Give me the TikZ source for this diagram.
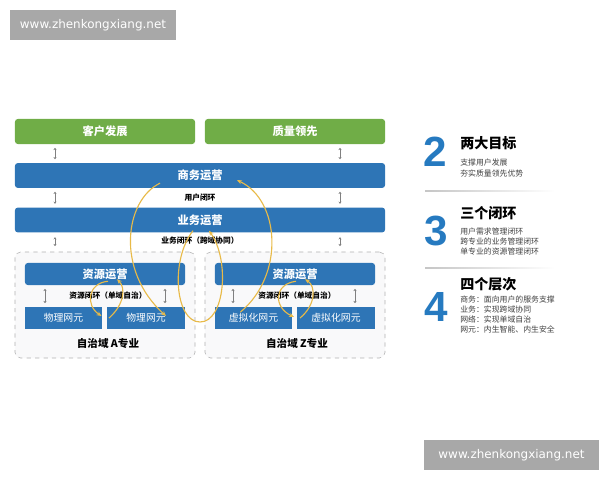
\documentclass[tikz,border=0pt]{standalone}
\usepackage{fontspec}
\setmainfont{Noto Sans CJK SC}
\newfontfamily\numfont{Liberation Sans}
\newfontfamily\wmfont{DejaVu Sans}
\usetikzlibrary{arrows.meta,calc}

\definecolor{gbar}{RGB}{112,173,71}
\definecolor{bbar}{RGB}{46,117,182}
\definecolor{loopc}{RGB}{232,186,72}
\definecolor{numc}{RGB}{38,122,192}
\definecolor{wmgray}{RGB}{168,168,168}
\definecolor{domfill}{RGB}{249,249,250}

\newcommand{\fs}[1]{\fontsize{#1}{#1}\selectfont}

\begin{document}
\begin{tikzpicture}[x=0.025cm, y=-0.025cm,
  greenbar/.style={fill=gbar, rounded corners=2pt, minimum width=4.5cm, minimum height=0.625cm, inner sep=0, text=white, font=\fs{8}\bfseries},
  bluebar/.style={fill=bbar, rounded corners=2pt, minimum width=9.25cm, minimum height=0.62cm, inner sep=0, text=white, font=\fs{8}\bfseries},
  resbar/.style={fill=bbar, rounded corners=2pt, minimum width=4cm, minimum height=0.55cm, inner sep=0, text=white, font=\fs{8}\bfseries},
  nebox/.style={fill=bbar, minimum width=1.93cm, minimum height=0.55cm, inner sep=0, text=white, font=\fs{7}},
  domainbox/.style={draw=gray!60, dashed, fill=domfill, rounded corners=4pt, minimum width=4.5cm, minimum height=2.65cm, inner sep=0},
  looplabel/.style={font=\fs{5.5}\bfseries, inner sep=0},
  updown/.style={{Stealth[length=1.6pt,width=2.2pt]}-{Stealth[length=1.6pt,width=2.2pt]}, gray, line width=0.4pt, shorten >=2.5pt, shorten <=2.5pt},
  goldloop/.style={-{Stealth[length=3.5pt,width=3pt]}, loopc, line width=0.8pt},
  bignum/.style={font=\numfont\fs{30}\bfseries, text=numc, inner sep=0},
  titletext/.style={anchor=west, font=\fs{10}\bfseries, inner sep=0},
  itemtext/.style={anchor=west, font=\fs{5.6}, text=black!75, inner sep=0, text height=4.6pt, text depth=0.6pt},
  watermark/.style={fill=wmgray, text=white, font=\wmfont\fs{8.5}, inner sep=0}]

\useasboundingbox (0,0) rectangle (600,480);

% watermarks
\node[watermark, minimum width=4.15cm, minimum height=0.75cm] (wm1) at (93,25) {www.zhenkongxiang.net};
\node[watermark, minimum width=4.38cm, minimum height=0.75cm] (wm2) at (511.5,455) {www.zhenkongxiang.net};

% goals
\node[greenbar] (cust) at (105,131.5) {客户发展};
\node[greenbar] (qual) at (295,131.5) {质量领先};

% operation layers
\node[bluebar] (biz) at (200,175.5) {商务运营};
\node[bluebar] (serv) at (200,220) {业务运营};
\node[looplabel] (userloop) at (200,198) {用户闭环};
\node[looplabel] (servloop) at (200,241) {业务闭环（跨域协同）};

% domains
\node[domainbox] (domA) at (105,305) {};
\node[domainbox] (domZ) at (295,305) {};
\node[resbar] (resA) at (105,274) {资源运营};
\node[resbar] (resZ) at (295,274) {资源运营};
\node[looplabel] (resloopA) at (108,296) {资源闭环（单域自治）};
\node[looplabel] (resloopZ) at (297,296) {资源闭环（单域自治）};
\node[nebox] (neA1) at (63.5,318) {物理网元};
\node[nebox] (neA2) at (146,318) {物理网元};
\node[nebox] (neZ1) at (253.5,318) {虚拟化网元};
\node[nebox] (neZ2) at (336,318) {虚拟化网元};
\node[font=\fs{7.5}\bfseries, inner sep=0] (nameA) at (108,343) {自治域 A专业};
\node[font=\fs{7.5}\bfseries, inner sep=0] (nameZ) at (297,343) {自治域 Z专业};

% small double arrows
\coordinate (cl) at (55,0);
\coordinate (cr) at (340,0);
\draw[updown] (cust.south -| cl) -- (biz.north -| cl);
\draw[updown] (qual.south -| cr) -- (biz.north -| cr);
\draw[updown] (biz.south -| cl) -- (serv.north -| cl);
\draw[updown] (biz.south -| cr) -- (serv.north -| cr);
\draw[updown] ($(serv.south -| cl)+(0,1)$) -- ($(domA.north -| cl)+(0,-2)$);
\draw[updown] ($(serv.south -| cr)+(0,1)$) -- ($(domZ.north -| cr)+(0,-2)$);
\draw[updown] (resA.south -| 45,0) -- (neA1.north -| 45,0);
\draw[updown] (resA.south -| 165,0) -- (neA2.north -| 165,0);
\draw[updown] (resZ.south -| 233,0) -- (neZ1.north -| 233,0);
\draw[updown] (resZ.south -| 355,0) -- (neZ2.north -| 355,0);

% loops
\draw[goldloop] ($(biz.south)+(-40,-5)$) .. controls (125,200) and (115,270) .. ($(neA2.center)+(20,-2)$);
\draw[goldloop] ($(neZ1.center)+(-13,-6)$) .. controls (285,275) and (280,200) .. ($(biz.south)+(37,-8)$);
\draw[goldloop] ($(serv.south)+(-7,-2)$) .. controls (170,260) and (175,322) .. (200,322) .. controls (225,322) and (230,260) .. ($(serv.south)+(9,-2)$);
\draw[goldloop] ($(neA2.center)+(-37,0)$) .. controls (124,305) and (126,288) .. ($(resA.south)+(12,-6)$);
\draw[goldloop] ($(resA.south)+(3,-4)$) .. controls (88,283) and (85,305) .. ($(neA1.center)+(38,-2)$);
\draw[goldloop] ($(neZ2.center)+(-36,0)$) .. controls (316,305) and (316,286) .. ($(resZ.south)+(10,-6)$);
\draw[goldloop] ($(resZ.south)+(1,-4)$) .. controls (274,284) and (273,307) .. ($(neZ2.center)+(-42,-1)$);

% right panel
\node[bignum] (n2) at (435,152) {2};
\node[titletext] (t2) at (460,143) {两大目标};
\node[itemtext] (i21) at (460,163) {支撑用户发展};
\node[itemtext] (i22) at (460,174) {夯实质量领先优势};
\shade[left color=gray!45, right color=white] (425,190.5) rectangle (555,191.5);

\node[bignum] (n3) at (436,231) {3};
\node[titletext] (t3) at (460,213) {三个闭环};
\node[itemtext] (i31) at (460,232) {用户需求管理闭环};
\node[itemtext] (i32) at (460,242) {跨专业的业务管理闭环};
\node[itemtext] (i33) at (460,252) {单专业的资源管理闭环};
\shade[left color=gray!45, right color=white] (425,267.5) rectangle (555,268.5);

\node[bignum] (n4) at (436,307) {4};
\node[titletext] (t4) at (460,284) {四个层次};
\node[itemtext] (i41) at (460,300) {商务：面向用户的服务支撑};
\node[itemtext] (i42) at (460,310) {业务：实现跨域协同};
\node[itemtext] (i43) at (460,320) {网络：实现单域自治};
\node[itemtext] (i44) at (460,330) {网元：内生智能、内生安全};
\end{tikzpicture}
\end{document}
